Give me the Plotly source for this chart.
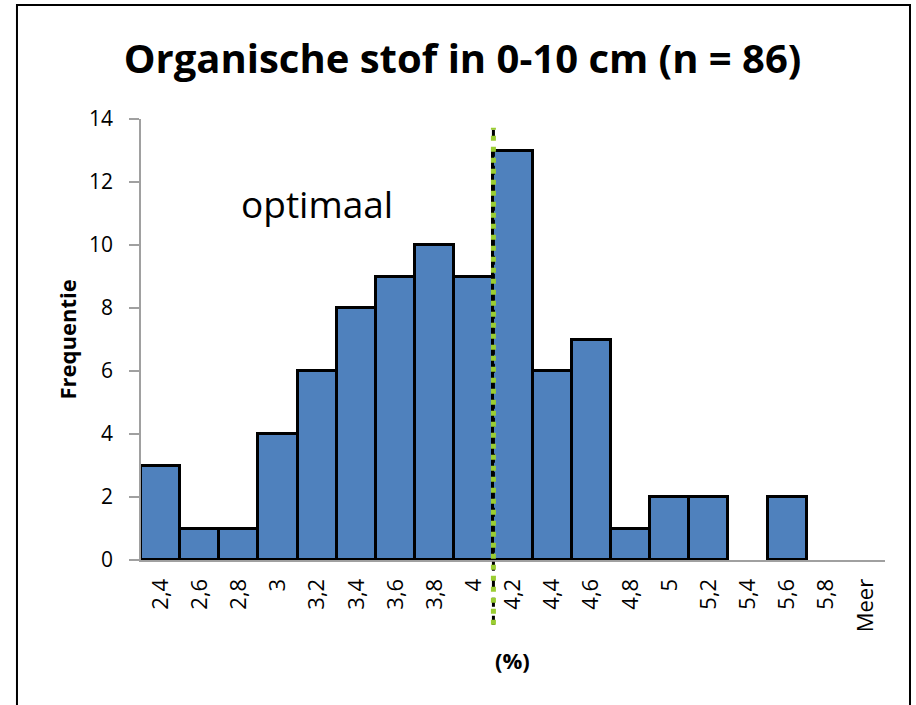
import plotly.graph_objects as go

categories = ["2,4", "2,6", "2,8", "3", "3,2", "3,4", "3,6", "3,8", "4", "4,2",
              "4,4", "4,6", "4,8", "5", "5,2", "5,4", "5,6", "5,8", "Meer"]
frequencies = [3, 1, 1, 4, 6, 8, 9, 10, 9, 13, 6, 7, 1, 2, 2, 0, 2, 0, 0]
y_ticks = [0, 2, 4, 6, 8, 10, 12, 14]
optimum_position = 8.5  # boundary between "4" and "4,2"

FONT = "Open Sans"

fig = go.Figure()
fig.add_trace(go.Bar(
    x=list(range(len(categories))),
    y=[v if v > 0 else None for v in frequencies],
    marker=dict(color="#4F81BD", line=dict(color="black", width=3)),
    width=1.0,
))

# optimum line: black line with green square dots on top
fig.add_shape(type="line", xref="x", yref="paper", x0=optimum_position, x1=optimum_position,
              y0=-0.147, y1=0.98, line=dict(color="black", width=3, dash="dash"))
fig.add_shape(type="line", xref="x", yref="paper", x0=optimum_position, x1=optimum_position,
              y0=-0.147, y1=0.98, line=dict(color="#9ACD32", width=5, dash="5px,6px"))

# outer frame
fig.add_shape(type="path", xref="paper", yref="paper",
              path="M -0.1667,-0.5 L -0.1667,1.2585 L 1.0336,1.2585 L 1.0336,-0.5",
              line=dict(color="black", width=2))

fig.add_annotation(text="optimaal", xref="paper", yref="paper", x=0.236, y=0.808,
                   showarrow=False, font=dict(family=FONT, size=37, color="black"),
                   xanchor="center", yanchor="middle")
fig.add_annotation(text="<b>Frequentie</b>", xref="paper", yref="paper", x=-0.0995, y=0.5,
                   textangle=-90, showarrow=False,
                   font=dict(family=FONT, size=22, color="black"),
                   xanchor="center", yanchor="middle")
fig.add_annotation(text="<b>(%)</b>", xref="paper", yref="paper", x=0.4997, y=-0.227,
                   showarrow=False, font=dict(family=FONT, size=22, color="black"),
                   xanchor="center", yanchor="middle")

fig.update_layout(
    width=916, height=705,
    margin=dict(l=141, r=31, t=119, b=145),
    paper_bgcolor="white", plot_bgcolor="white",
    showlegend=False, bargap=0,
    title=dict(text="<b>Organische stof in 0-10 cm (n = 86)</b>", x=0.505, xanchor="center",
               y=0.917, yanchor="middle",
               font=dict(family=FONT, size=40, color="black")),
    font=dict(family=FONT, color="black"),
)
fig.update_xaxes(
    tickmode="array", tickvals=list(range(len(categories))), ticktext=categories,
    tickangle=-90, tickfont=dict(size=22, color="black"),
    range=[-0.5, len(categories) - 0.5],
    showline=True, linecolor="#A0A0A0", linewidth=2, ticks="",
    ticklabelstandoff=8,
    showgrid=False, zeroline=False,
)
fig.update_yaxes(
    range=[0, 14], tickmode="array", tickvals=y_ticks,
    tickfont=dict(size=21, color="black"),
    showline=True, linecolor="#A0A0A0", linewidth=1.5,
    ticks="outside", ticklen=10, tickcolor="#A0A0A0", tickwidth=1.5,
    ticklabelstandoff=12,
    showgrid=False, zeroline=False,
)

fig.write_html("out.html", config={"displayModeBar": False},
               post_script="document.body.style.margin='0px';")
